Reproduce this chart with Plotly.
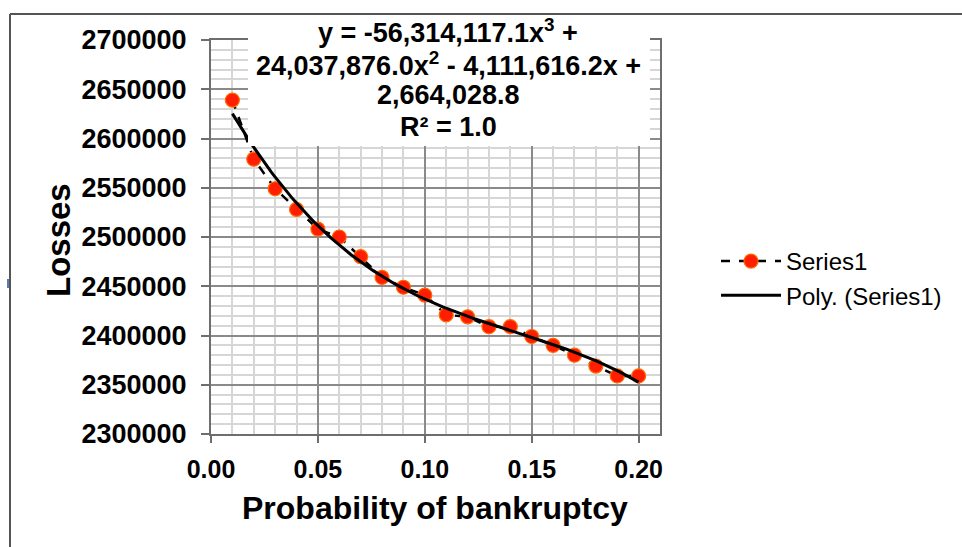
import numpy as np
import plotly.graph_objects as go

# ---- data ----
prob = [0.01, 0.02, 0.03, 0.04, 0.05, 0.06, 0.07, 0.08, 0.09, 0.10,
        0.11, 0.12, 0.13, 0.14, 0.15, 0.16, 0.17, 0.18, 0.19, 0.20]
losses = [2639000, 2579000, 2549000, 2528000, 2508000, 2500000, 2480000, 2459000, 2449000, 2441000,
          2421000, 2419000, 2409000, 2409000, 2399000, 2390000, 2380000, 2369000, 2359000, 2359000]
# trendline coefficients shown on the chart (x^3, x^2, x, const)
poly_coef = [-56314117.1, 24037876.0, -4111616.2, 2664028.8]
y_ticks = [2300000, 2350000, 2400000, 2450000, 2500000, 2550000, 2600000, 2650000, 2700000]
x_ticks = [0.00, 0.05, 0.10, 0.15, 0.20]
eq_lines = ["y = -56,314,117.1x<sup>3</sup> +",
            "24,037,876.0x<sup>2</sup> - 4,111,616.2x +",
            "2,664,028.8",
            "R² = 1.0"]

W, H = 962, 547
L, R, T, B = 211, 660, 40, 434

def px(xp):
    return (xp - L) / (R - L)

def py(yp):
    return (B - yp) / (B - T)

xt = np.linspace(min(prob), max(prob), 200)
yt = np.polyval(poly_coef, xt)

FONT = "Liberation Sans, Arial, sans-serif"

fig = go.Figure()
fig.add_trace(go.Scatter(
    x=prob, y=losses, mode="lines+markers", name="Series1",
    line=dict(color="black", width=2.5, dash="dash"),
    marker=dict(color="#FF1E00", size=14, line=dict(color="#FF6A00", width=1.2)),
))
fig.add_trace(go.Scatter(
    x=xt, y=yt, mode="lines", name="Poly. (Series1)",
    line=dict(color="black", width=3),
))

fig.update_xaxes(
    range=[0, 0.21], tickvals=x_ticks, tickformat=".2f",
    showgrid=True, gridcolor="#8a8a8a", gridwidth=2,
    minor=dict(dtick=0.01, tick0=0, showgrid=True, gridcolor="#d6d6d6", gridwidth=2, ticks=""),
    ticks="outside", ticklen=7, tickwidth=2, tickcolor="#6e6e6e",
    showline=True, linecolor="#6e6e6e", linewidth=2, mirror=True,
    tickfont=dict(family=FONT, size=25, color="black", weight="bold"),
    zeroline=False, ticklabelstandoff=5,
)
fig.update_yaxes(
    range=[2300000, 2700000], tickvals=y_ticks, tickformat="d",
    showgrid=True, gridcolor="#8a8a8a", gridwidth=2,
    minor=dict(dtick=10000, tick0=2300000, showgrid=True, gridcolor="#d6d6d6", gridwidth=2, ticks=""),
    ticks="outside", ticklen=8, tickwidth=2, tickcolor="#6e6e6e",
    showline=True, linecolor="#6e6e6e", linewidth=2, mirror=True,
    tickfont=dict(family=FONT, size=27, color="black", weight="bold"),
    zeroline=False, ticklabelstandoff=9,
)

shapes = [
    # white box behind equation
    dict(type="rect", xref="paper", yref="paper", x0=px(248), x1=px(650), y0=py(146), y1=py(16),
         fillcolor="white", line=dict(width=0), layer="above"),
    # outer chart border (top and left)
    dict(type="line", xref="paper", yref="paper", x0=px(10), x1=px(962), y0=py(14), y1=py(14),
         line=dict(color="#555555", width=2)),
    dict(type="line", xref="paper", yref="paper", x0=px(10), x1=px(10), y0=py(14), y1=py(547),
         line=dict(color="#555555", width=2)),
    dict(type="line", xref="paper", yref="paper", x0=px(8), x1=px(8), y0=py(279), y1=py(288),
         line=dict(color="#5b7bb5", width=2)),
]

annotations = []
for txt, yc in zip(eq_lines, [31, 64, 95, 127]):
    annotations.append(dict(text=txt, xref="paper", yref="paper", x=px(448), y=py(yc),
                            xanchor="center", yanchor="middle", showarrow=False,
                            font=dict(family=FONT, size=27, color="black", weight="bold")))
annotations.append(dict(text="Losses", xref="paper", yref="paper", x=px(58), y=py(240),
                        xanchor="center", yanchor="middle", showarrow=False, textangle=-90,
                        font=dict(family=FONT, size=33, color="black", weight="bold")))
annotations.append(dict(text="Probability of bankruptcy", xref="paper", yref="paper", x=px(435), y=py(508),
                        xanchor="center", yanchor="middle", showarrow=False,
                        font=dict(family=FONT, size=32, color="black", weight="bold")))

fig.update_layout(
    width=W, height=H,
    margin=dict(l=L, r=W - R, t=T, b=H - B, pad=0),
    plot_bgcolor="white", paper_bgcolor="white",
    showlegend=True,
    legend=dict(x=px(716), y=py(239), xanchor="left", yanchor="top",
                font=dict(family=FONT, size=24, color="black"),
                bgcolor="rgba(0,0,0,0)", itemwidth=60, tracegroupgap=0),
    shapes=shapes, annotations=annotations,
)

fig.write_html("out.html")
